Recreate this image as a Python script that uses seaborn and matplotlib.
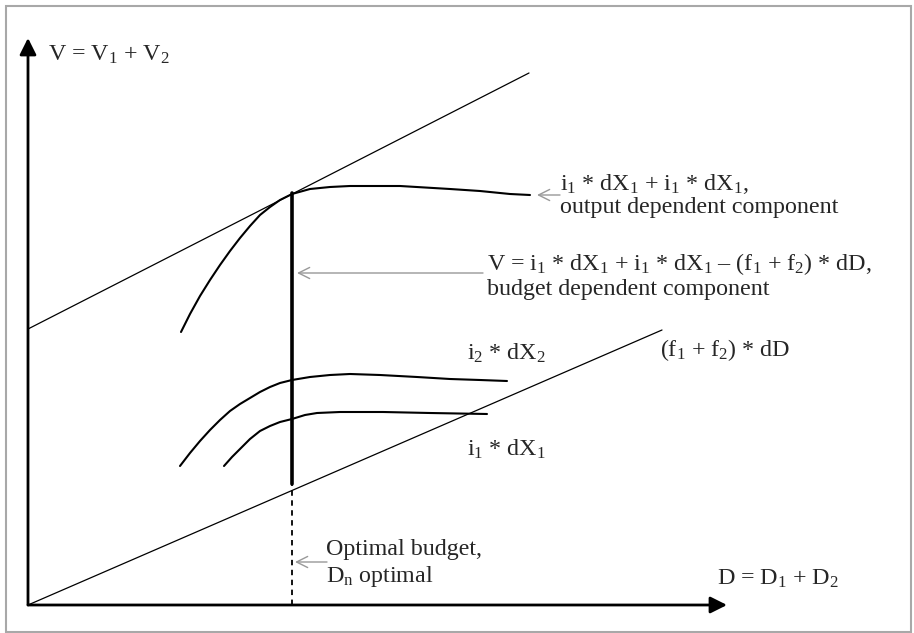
# Diagrama: presupuesto óptimo D vs valor V
import matplotlib.pyplot as plt
import seaborn as sns
from matplotlib.patches import Rectangle

# curvas (D, V)
top_d = [15.3, 16.2, 17.2, 18.2, 19.2, 20.2, 21.2, 22.2, 23.2, 24.2, 25.2, 26.4,
         28.2, 30.2, 32.2, 37.2, 42.2, 45.2, 48.2, 50.2]
top_v = [27.3, 29.1, 30.9, 32.5, 34.0, 35.4, 36.7, 37.9, 39.0, 39.8, 40.5, 41.1,
         41.6, 41.8, 41.9, 41.9, 41.6, 41.4, 41.1, 41.0]

i2_d = [15.2, 16.2, 17.2, 18.2, 19.2, 20.2, 21.2, 22.2, 23.2, 24.2, 25.2, 26.4,
        28.2, 30.2, 32.2, 35.2, 38.9, 42.2, 45.2, 47.9]
i2_v = [13.9, 15.2, 16.4, 17.5, 18.5, 19.4, 20.1, 20.7, 21.3, 21.8, 22.2, 22.5,
        22.8, 23.0, 23.1, 23.0, 22.8, 22.6, 22.5, 22.4]

i1_d = [19.6, 20.4, 21.2, 22.2, 23.2, 24.2, 25.2, 26.4, 27.7, 28.9, 31.2, 35.5, 40.2, 45.9]
i1_v = [13.9, 14.8, 15.6, 16.6, 17.4, 17.9, 18.3, 18.6, 19.0, 19.2, 19.3, 19.3, 19.2, 19.1]

# rectas: tangente y costo (f1 + f2) * dD
tangent_d = [0, 50.1]
tangent_v = [27.6, 53.2]
cost_d = [0, 63.4]
cost_v = [0, 27.5]

# presupuesto óptimo
d_opt = 26.4
v_opt = 41.2
v_cut = 12.1

# largo de los ejes
d_max = 69.9
v_max = 56.7

sns.set_style("white")
plt.rcParams["font.family"] = ["Liberation Serif", "DejaVu Serif"]
plt.rcParams["mathtext.fontset"] = "custom"
plt.rcParams["mathtext.rm"] = "Liberation Serif"
plt.rcParams["mathtext.it"] = "Liberation Serif"

fig = plt.figure(figsize=(9.14, 6.33), dpi=100)
ax = fig.add_axes([0, 0, 1, 1])
ax.set_xlim(-2.8, 88.6)
ax.set_ylim(-2.8, 60.5)
ax.axis("off")

# marco gris
fig.patches.append(Rectangle((6 / 914, 1 / 633), 905 / 914, 626 / 633,
                             transform=fig.transFigure, fill=False,
                             edgecolor="#a8a8a8", lw=1.5))

# ejes con flecha
ax.annotate("", xy=(d_max, 0), xytext=(0, 0),
            arrowprops=dict(arrowstyle="-|>", color="black", lw=2,
                            mutation_scale=25, shrinkA=0, shrinkB=0))
ax.annotate("", xy=(0, v_max), xytext=(0, 0),
            arrowprops=dict(arrowstyle="-|>", color="black", lw=2,
                            mutation_scale=25, shrinkA=0, shrinkB=0))

# rectas finas
sns.lineplot(x=tangent_d, y=tangent_v, ax=ax, color="black", lw=0.9)
sns.lineplot(x=cost_d, y=cost_v, ax=ax, color="black", lw=0.9)

# curvas
for d, v in [(top_d, top_v), (i2_d, i2_v), (i1_d, i1_v)]:
    sns.lineplot(x=d, y=v, ax=ax, color="black", lw=1.5, sort=False, estimator=None)

# línea del óptimo
sns.lineplot(x=[d_opt, d_opt], y=[v_cut, v_opt], ax=ax, color="black", lw=2.6,
             sort=False, estimator=None)
ax.plot([d_opt, d_opt], [0, v_cut], color="black", lw=1.3, ls=(0, (3, 2.5)))

# flechas grises
gray = dict(arrowstyle="->", color="#999999", lw=1, mutation_scale=20,
            shrinkA=0, shrinkB=0)
ax.annotate("", xy=(50.9, 41.0), xytext=(53.2, 41.0), arrowprops=gray)
ax.annotate("", xy=(26.9, 33.2), xytext=(45.5, 33.2), arrowprops=gray)
ax.annotate("", xy=(26.7, 4.3), xytext=(29.9, 4.3), arrowprops=gray)

# textos
fs = 17.3
ax.text(2.0, 54.4, "V = V$_1$ + V$_2$", fontsize=fs, va="baseline")
ax.text(53.2, 41.5, "i$_1$ * dX$_1$ + i$_1$ * dX$_1$,", fontsize=fs, va="baseline")
ax.text(53.2, 39.2, "output dependent component", fontsize=fs, va="baseline")
ax.text(45.9, 33.5, "V = i$_1$ * dX$_1$ + i$_1$ * dX$_1$ – (f$_1$ + f$_2$) * dD,",
        fontsize=fs, va="baseline")
ax.text(45.9, 31.0, "budget dependent component", fontsize=fs, va="baseline")
ax.text(63.2, 24.9, "(f$_1$ + f$_2$) * dD", fontsize=fs, va="baseline")
ax.text(43.9, 24.5, "i$_2$ * dX$_2$", fontsize=fs, va="baseline")
ax.text(43.9, 14.9, "i$_1$ * dX$_1$", fontsize=fs, va="baseline")
ax.text(29.8, 5.0, "Optimal budget,", fontsize=fs, va="baseline")
ax.text(29.8, 2.3, "D$_{\\mathrm{n}}$ optimal", fontsize=fs, va="baseline")
ax.text(68.9, 2.0, "D = D$_1$ + D$_2$", fontsize=fs, va="baseline")

plt.savefig("out.png", dpi=100)
